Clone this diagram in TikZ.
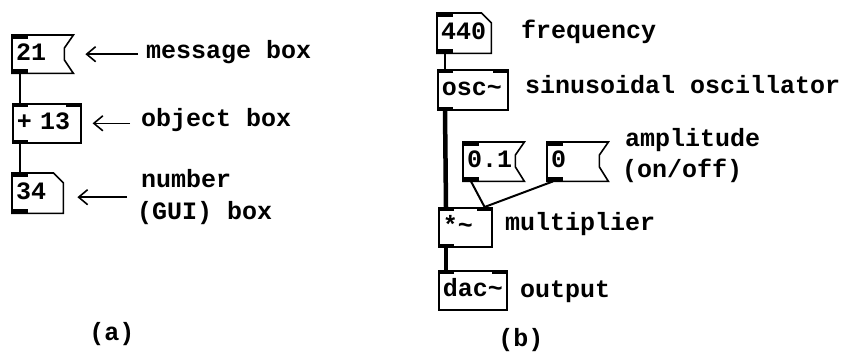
\documentclass[tikz,border=0pt]{standalone}
\usepackage{fontspec}
\setmonofont{Liberation Mono}
\usetikzlibrary{arrows.meta}
\newcommand{\pdtext}{\ttfamily\bfseries\fontsize{25}{30}\selectfont}
% outlines of message and number boxes
\newcommand{\msgshape}[1]{\draw[pdline] (#1.north west) -- (#1.north east) -- ++(-9,13) -- ++(0,12) -- (#1.south east) -- (#1.south west) -- cycle;}
\newcommand{\numshape}[1]{\draw[pdline] (#1.north west) -- ([xshift=-10pt]#1.north east) -- ++(10,10) -- (#1.south east) -- (#1.south west) -- cycle;}
% inlets and outlets
\newcommand{\inL}[1]{\fill (#1.north west) rectangle ++(16,4);}
\newcommand{\inR}[1]{\fill (#1.north east) rectangle ++(-16,4);}
\newcommand{\outL}[1]{\fill (#1.south west) rectangle ++(16,-4);}
\begin{document}
\begin{tikzpicture}[x=1pt,y=-1pt,
   pdline/.style={line width=1.6pt},
   pd/.style={anchor=north west, inner xsep=4pt, inner ysep=0pt,
     minimum height=39pt, text height=12pt, text depth=0pt,
     text width=#1, align=left, font=\pdtext},
   obj/.style={pd=#1, draw, pdline},
   lbl/.style={anchor=base west, inner sep=0pt, font=\pdtext},
   wire/.style={line width=2pt},
   sig/.style={line width=4.5pt},
   pointer/.style={line width=1.6pt, -{Straight Barb[length=9pt,width=15pt]}}]

\useasboundingbox (0,0) rectangle (847,354);

% (a)
\node[pd=53pt, minimum height=38pt] (m21) at (12,35) {21};
\node[obj=60pt] (add) at (12,103) {+ 13};
\node[pd=43pt, minimum height=40pt] (n34) at (12,173) {34};
\msgshape{m21}
\numshape{n34}
\inL{m21} \outL{m21}
\inL{add} \inR{add} \outL{add}
\inL{n34} \outL{n34}

\draw[wire] ([xshift=8pt]m21.south west) -- ([xshift=8pt]add.north west);
\draw[wire] ([xshift=8pt]add.south west) -- ([xshift=8pt]n34.north west);

\node[lbl] (lblmsg) at (146,58) {message box};
\node[lbl] (lblobj) at (141,126) {object box};
\node[lbl] (lblnum) at (141,187) {number};
\node[lbl] (lblgui) at (137,219) {(GUI) box};
\node[lbl, anchor=base] (lbla) at (112,340) {(a)};

\draw[pointer, shorten <=8pt, shorten >=12pt] (m21.east -| lblmsg.west) -- (m21.east);
\draw[pointer, shorten <=11pt, shorten >=11pt] (add.east -| lblobj.west) -- (add.east);
\draw[pointer, shorten <=14pt, shorten >=14pt] ([yshift=-4pt]n34.east -| lblnum.west) -- ([yshift=-4pt]n34.east);

% (b)
\node[pd=46pt, minimum height=40pt] (n440) at (437,13) {440};
\node[obj=62pt, minimum height=40pt] (osc) at (437,69) {osc\char`\~};
\node[pd=53pt] (m01) at (463,142) {0.1};
\node[pd=53pt] (m0) at (547,142) {0};
\node[obj=45pt] (mul) at (438,207) {*\char`\~};
\node[obj=60pt] (dac) at (438,270) {dac\char`\~};
\numshape{n440}
\msgshape{m01}
\msgshape{m0}
\inL{n440} \outL{n440}
\inL{osc} \inR{osc} \outL{osc}
\inL{m01} \outL{m01}
\inL{m0} \outL{m0}
\inL{mul} \inR{mul} \outL{mul}
\inL{dac} \inR{dac}

\draw[wire] ([xshift=8pt]n440.south west) -- ([xshift=8pt]osc.north west);
\draw[sig] ([xshift=8pt]osc.south west) -- ([xshift=8pt]mul.north west);
\draw[wire] ([xshift=8pt]m01.south west) -- ([xshift=-8pt]mul.north east);
\draw[wire] ([xshift=6pt]m0.south west) -- ([xshift=-8pt]mul.north east);
\draw[sig] ([xshift=8pt]mul.south west) -- ([xshift=8pt]dac.north west);

\node[lbl] (lblfreq) at (521,38) {frequency};
\node[lbl] (lblosc) at (525,93) {sinusoidal oscillator};
\node[lbl] (lblamp) at (625,146) {amplitude};
\node[lbl] (lblonoff) at (622,177) {(on/off)};
\node[lbl] (lblmul) at (505,230) {multiplier};
\node[lbl] (lblout) at (520,297) {output};
\node[lbl, anchor=base] (lblb) at (521,346) {(b)};

\end{tikzpicture}
\end{document}
